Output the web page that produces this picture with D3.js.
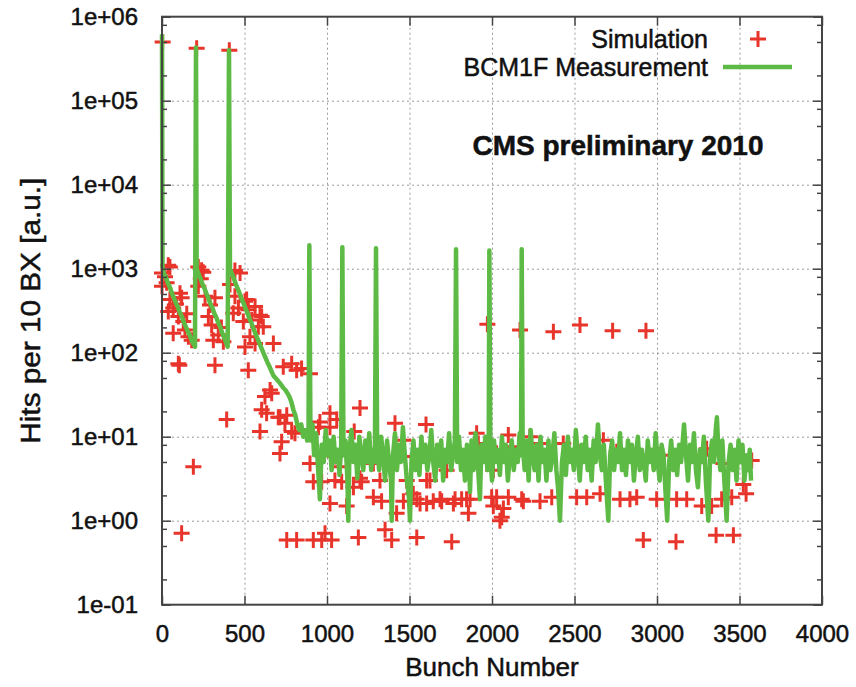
<!DOCTYPE html>
<html>
<head>
<meta charset="utf-8">
<script src="https://cdn.jsdelivr.net/npm/d3@7"></script>
<style>
  body { margin: 0; background: #fff; }
  text { font-family: "Liberation Sans", Arial, Helvetica, sans-serif; fill: #111; stroke: #111; stroke-width: 0.5px; }
</style>
</head>
<body>
<script>
// bunch number ticks and hits ticks (log)
var xTicks = [0, 500, 1000, 1500, 2000, 2500, 3000, 3500, 4000];
var yTicks = [0.1, 1, 10, 100, 1e3, 1e4, 1e5, 1e6];
var yTickLabels = ["1e-01", "1e+00", "1e+01", "1e+02", "1e+03", "1e+04", "1e+05", "1e+06"];
var minorSteps = [2, 5, 8];

var seriesNames = ["Simulation", "BCM1F Measurement"];

// BCM1F measurement, [bunch, hits]
var measurement = [
  [0, 6.2e5], [3, 1050], [12, 870], [24, 780], [36, 670], [48, 600], [60, 510], [72, 450],
  [84, 390], [96, 350], [108, 300], [120, 270], [132, 230], [144, 205], [156, 180], [168, 162],
  [180, 140], [192, 126], [200, 118],
  [206, 4.3e5], [210, 1000], [222, 860], [234, 760], [246, 650], [258, 580], [270, 500],
  [282, 440], [294, 380], [306, 340], [318, 290], [330, 260], [342, 225], [354, 200], [366, 170],
  [378, 150], [390, 130], [398, 118],
  [406, 4.0e5], [412, 1000], [424, 870], [436, 760], [448, 650], [460, 570], [472, 500],
  [484, 430], [496, 380], [508, 330], [520, 290], [532, 250], [544, 220], [556, 190], [568, 165],
  [580, 145], [592, 128], [604, 112], [616, 98], [628, 86], [640, 76], [652, 68], [664, 60],
  [676, 53], [688, 50], [700, 47], [712, 44], [724, 41], [736, 38], [748, 36], [760, 33],
  [772, 30], [784, 26], [796, 21], [808, 18], [820, 14], [832, 12], [844, 14], [856, 10],
  [868, 12], [880, 9], [888, 11],
  [893, 1900], [900, 9], [912, 14], [922, 6], [934, 11], [945, 4.5], [957, 1.8], [968, 8],
  [980, 5], [992, 12], [1004, 6], [1016, 9], [1028, 4], [1040, 10], [1052, 5], [1064, 7],
  [1076, 3.5], [1086, 8], [1093, 1800], [1100, 6], [1112, 9], [1124, 3], [1129, 1.0], [1136, 7],
  [1148, 12], [1160, 5], [1172, 8], [1184, 3.2], [1196, 10], [1208, 6], [1220, 4], [1232, 9],
  [1244, 5], [1256, 11], [1268, 4], [1280, 7], [1290, 5], [1297, 1750], [1304, 8], [1316, 4],
  [1328, 10], [1340, 6], [1352, 3], [1364, 9], [1376, 5], [1388, 3], [1392, 1.0], [1400, 6],
  [1412, 11], [1424, 4], [1436, 8], [1448, 5], [1460, 13], [1472, 6], [1484, 3], [1496, 2],
  [1503, 1.0], [1512, 5], [1524, 9], [1536, 4], [1548, 7], [1560, 3.5], [1572, 10], [1584, 5],
  [1596, 8], [1608, 4], [1620, 6], [1632, 12], [1644, 5], [1656, 3], [1668, 8], [1680, 4.5],
  [1692, 9], [1704, 3], [1716, 7], [1728, 5], [1740, 11], [1752, 4], [1764, 6], [1775, 9],
  [1782, 1700], [1789, 5], [1800, 10], [1812, 4], [1824, 7], [1836, 3], [1848, 8], [1860, 5],
  [1867, 2.2], [1876, 9], [1888, 4], [1900, 11], [1912, 6], [1920, 3], [1927, 1.8], [1936, 8],
  [1948, 5], [1960, 10], [1972, 4], [1980, 7], [1984, 1650], [1990, 6], [2000, 3], [2012, 9],
  [2024, 5], [2036, 7], [2048, 3.5], [2060, 10], [2072, 5], [2084, 8], [2096, 3], [2108, 6],
  [2120, 9], [2132, 4], [2144, 7], [2156, 5], [2168, 11], [2176, 6], [2180, 1700], [2186, 8],
  [2198, 4], [2210, 9], [2222, 3], [2234, 12], [2246, 6], [2258, 4], [2270, 8], [2282, 3],
  [2294, 10], [2306, 5], [2318, 7], [2330, 3], [2342, 9], [2354, 4], [2366, 6], [2378, 11],
  [2390, 4], [2400, 2.5], [2412, 1.0], [2424, 5], [2436, 8], [2448, 3.5], [2460, 10], [2472, 5],
  [2484, 7], [2496, 4], [2508, 12], [2520, 6], [2532, 3], [2544, 8], [2556, 5], [2568, 10],
  [2580, 4], [2592, 7], [2604, 3], [2616, 9], [2628, 5], [2642, 14], [2654, 6], [2666, 4],
  [2678, 8], [2690, 3], [2705, 1.0], [2716, 6], [2728, 9], [2740, 4], [2752, 7], [2764, 5],
  [2776, 11], [2788, 4], [2800, 7], [2812, 3.5], [2824, 9], [2836, 5], [2848, 8], [2860, 3],
  [2872, 6], [2884, 10], [2896, 4], [2908, 7], [2920, 5], [2932, 3], [2944, 9], [2956, 5],
  [2968, 7], [2980, 4], [2992, 11], [3004, 5], [3016, 3], [3028, 8], [3040, 6], [3050, 2.5],
  [3062, 1.0], [3074, 5], [3086, 9], [3098, 4], [3110, 7], [3122, 3.5], [3134, 8], [3146, 5],
  [3158, 10], [3164, 14], [3176, 6], [3188, 3], [3200, 8], [3212, 5], [3224, 11], [3236, 4],
  [3248, 2.5], [3260, 7], [3272, 5], [3284, 10], [3296, 3], [3311, 1.0], [3322, 6], [3334, 9],
  [3346, 5], [3356, 12], [3363, 17], [3372, 7], [3384, 4], [3396, 9], [3408, 3], [3422, 1.0],
  [3434, 5], [3446, 8], [3458, 4], [3470, 7], [3482, 3], [3494, 9], [3506, 5], [3518, 8],
  [3530, 3], [3542, 6], [3554, 4], [3562, 7], [3570, 3]
];

// simulation, [bunch, hits]
var simulation = [
  [4, 5.0e5], [210, 4.2e5], [408, 4.0e5],
  [0, 890], [38, 1100], [48, 1050], [28, 680], [0, 620], [48, 430], [109, 510], [119, 450],
  [68, 340], [38, 310], [99, 270], [129, 235], [139, 186], [68, 170], [160, 155], [180, 141],
  [99, 74], [105, 71], [190, 4.4], [119, 0.71], [18, 800], [85, 380], [150, 290],
  [220, 1050], [240, 960], [250, 910], [220, 620], [261, 470], [321, 450], [291, 370],
  [281, 270], [301, 213], [341, 162], [311, 141], [372, 135], [321, 71], [392, 16],
  [235, 760], [360, 200],
  [442, 950], [473, 890], [412, 650], [442, 470], [463, 340], [432, 295], [503, 410], [513, 430],
  [523, 325], [493, 235], [544, 245], [564, 355], [594, 280], [604, 270], [584, 203], [614, 203],
  [533, 155], [503, 117], [564, 129], [675, 129], [523, 62], [735, 68], [786, 74], [816, 62],
  [846, 65], [897, 56],
  [624, 30], [665, 33], [655, 36], [634, 19], [604, 21], [705, 17], [715, 17], [756, 18],
  [745, 14.5], [594, 11.5], [786, 11.5], [806, 11], [715, 6.3], [725, 8.7], [897, 4.8], [917, 2.9],
  [968, 2.9], [948, 13], [957, 15], [1018, 13], [1018, 19], [1059, 16], [1018, 1.6], [1048, 5.8],
  [1048, 3.0], [1079, 4.4], [1089, 2.9], [1119, 1.5], [1165, 11.5], [1200, 22], [1160, 2.5],
  [1200, 3.2], [1210, 2.9], [1281, 4.8], [1281, 1.9], [1321, 3.0], [1331, 1.7], [1412, 14.5],
  [1422, 1.23], [1463, 9.1], [1463, 1.7], [1483, 3.0], [1523, 5.8], [1523, 2.1], [1544, 1.8],
  [1564, 1.6], [1600, 14], [1604, 3.0], [1604, 1.6], [1624, 3.0], [1644, 1.7],
  [756, 0.59], [816, 0.59], [917, 0.59], [968, 0.59], [988, 0.71], [1028, 0.59], [1190, 0.63],
  [1352, 0.78], [1392, 0.59], [1544, 0.63], [1756, 0.56], [2917, 0.59], [3115, 0.56],
  [3358, 0.67], [3463, 0.67],
  [1972, 218], [2170, 186], [2372, 178], [2533, 214], [2731, 182], [2933, 182],
  [1907, 11], [2099, 10.5], [2230, 10], [1665, 6.6], [1796, 6.9], [1917, 8.3], [2119, 7.6],
  [2291, 8.3], [2432, 8.3], [2523, 6.6], [2675, 9.1], [2756, 6.6], [2816, 5.8], [3018, 6.0],
  [3301, 7.2], [3402, 4.8], [3574, 5.2], [3523, 2.7], [3540, 2.1], [1988, 7.6], [1725, 4.0],
  [2008, 4.0],
  [1695, 1.7], [1776, 1.8], [1816, 1.8], [1867, 1.8], [1857, 1.23], [1998, 1.9], [2008, 1.5],
  [2059, 1.1], [2099, 1.9], [2180, 1.8], [2291, 1.7], [2362, 1.9], [2513, 1.9], [2574, 1.9],
  [2655, 2.1], [2776, 1.8], [2836, 1.8], [2877, 1.9], [2998, 1.8], [3119, 1.8], [3180, 1.8],
  [3271, 1.5], [3331, 1.5], [3392, 1.8], [3453, 1.9], [2028, 1.9], [2069, 1.4], [2048, 1.0],
  [2190, 1.7], [1685, 1.8], [1766, 1.6], [1846, 1.8]
];

var width = 856;
var height = 687;
// plot box edges (note: "top" is a reserved window property, so use other names)
var pLeft = 162, pRight = 822, pTop = 16.7, pBottom = 604.7;
var red = "#e8352b", green = "#5cba45";

var svg = d3.select('body').append('svg')
            .attr('width', width)
            .attr('height', height)
            .style('background-color', '#fff');

var x = d3.scaleLinear().domain([0, 4000]).range([pLeft, pRight]);
var y = d3.scaleLog().domain([0.1, 1e6]).range([pBottom, pTop]);

var minorTicks = [];
yTicks.slice(0, -1).forEach(function(t) {
  minorSteps.forEach(function(m) { minorTicks.push(t * m); });
});

// grid
var gx = svg.append('g')
  .attr('transform', 'translate(0,' + pBottom + ')')
  .call(d3.axisBottom(x).tickValues(xTicks.slice(1, -1)).tickSize(-(pBottom - pTop)).tickFormat(''));
var gy = svg.append('g')
  .attr('transform', 'translate(' + pLeft + ',0)')
  .call(d3.axisLeft(y).tickValues(yTicks.slice(1, -1)).tickSize(-(pRight - pLeft)).tickFormat(''));
[gx, gy].forEach(function(g) {
  g.select('.domain').remove();
  g.selectAll('line').attr('stroke', '#9a9a9a').attr('stroke-width', 1).attr('stroke-dasharray', '2,3');
});

// simulation crosses
svg.append('g').selectAll('path.sim')
  .data(simulation)
  .enter()
  .append('path')
  .attr('class', 'sim')
  .attr('d', 'M-8,0H8M0,-8V8')
  .attr('transform', function(d) { return 'translate(' + x(d[0]) + ',' + y(d[1]) + ')'; })
  .attr('stroke', red)
  .attr('stroke-width', 3);

// measurement line
var line = d3.line()
  .x(function(d) { return x(d[0]); })
  .y(function(d) { return y(d[1]); });

svg.append('path')
  .datum(measurement)
  .attr('d', line)
  .attr('fill', 'none')
  .attr('stroke', green)
  .attr('stroke-width', 4.5)
  .attr('stroke-linejoin', 'round');

// axes with inward ticks on all four sides
function styleAxis(g) {
  g.select('.domain').remove();
  g.selectAll('line').attr('stroke', '#444').attr('stroke-width', 1.5);
  g.selectAll('text').style('font-size', '24px').attr('fill', '#111');
}

svg.append('g').attr('transform', 'translate(0,' + pBottom + ')')
  .call(d3.axisBottom(x).tickValues(xTicks).tickSize(-9).tickPadding(20).tickFormat(function(d) { return d; }))
  .call(styleAxis);
svg.append('g').attr('transform', 'translate(0,' + pTop + ')')
  .call(d3.axisTop(x).tickValues(xTicks).tickSize(-9).tickFormat(''))
  .call(styleAxis);
svg.append('g').attr('transform', 'translate(' + pLeft + ',0)')
  .call(d3.axisLeft(y).tickValues(yTicks).tickSize(-9).tickPadding(24).tickFormat(function(d, i) { return yTickLabels[i]; }))
  .call(styleAxis);
svg.append('g').attr('transform', 'translate(' + pLeft + ',0)')
  .call(d3.axisLeft(y).tickValues(minorTicks).tickSize(-5).tickFormat(''))
  .call(styleAxis);
svg.append('g').attr('transform', 'translate(' + pRight + ',0)')
  .call(d3.axisRight(y).tickValues(yTicks).tickSize(-9).tickFormat(''))
  .call(styleAxis);
svg.append('g').attr('transform', 'translate(' + pRight + ',0)')
  .call(d3.axisRight(y).tickValues(minorTicks).tickSize(-5).tickFormat(''))
  .call(styleAxis);

// frame
svg.append('rect')
  .attr('x', pLeft).attr('y', pTop)
  .attr('width', pRight - pLeft).attr('height', pBottom - pTop)
  .attr('fill', 'none')
  .attr('stroke', '#444')
  .attr('stroke-width', 2);

// axis titles
svg.append('text')
  .attr('x', (pLeft + pRight) / 2).attr('y', 667)
  .attr('dy', '0.35em')
  .attr('text-anchor', 'middle')
  .style('font-size', '26px')
  .text('Bunch Number');

svg.append('text')
  .attr('transform', 'translate(31,' + (pTop + pBottom) / 2 + ') rotate(-90)')
  .attr('dy', '0.35em')
  .attr('text-anchor', 'middle')
  .attr('textLength', 266)
  .attr('lengthAdjust', 'spacingAndGlyphs')
  .style('font-size', '27px')
  .text('Hits per 10 BX [a.u.]');

// legend
svg.append('text')
  .attr('x', 708).attr('y', 39).attr('dy', '0.35em')
  .attr('text-anchor', 'end')
  .style('font-size', '25px')
  .text(seriesNames[0]);
svg.append('path')
  .attr('d', 'M-8,0H8M0,-8V8')
  .attr('transform', 'translate(758,39)')
  .attr('stroke', red)
  .attr('stroke-width', 3);

svg.append('text')
  .attr('x', 708).attr('y', 67).attr('dy', '0.35em')
  .attr('text-anchor', 'end')
  .style('font-size', '25px')
  .text(seriesNames[1]);
svg.append('line')
  .attr('x1', 723).attr('x2', 792)
  .attr('y1', 67).attr('y2', 67)
  .attr('stroke', green)
  .attr('stroke-width', 4.5);

svg.append('text')
  .attr('x', 618).attr('y', 145).attr('dy', '0.35em')
  .attr('text-anchor', 'middle')
  .style('font-size', '28px')
  .style('font-weight', 'bold')
  .text('CMS preliminary 2010');
</script>
</body>
</html>
